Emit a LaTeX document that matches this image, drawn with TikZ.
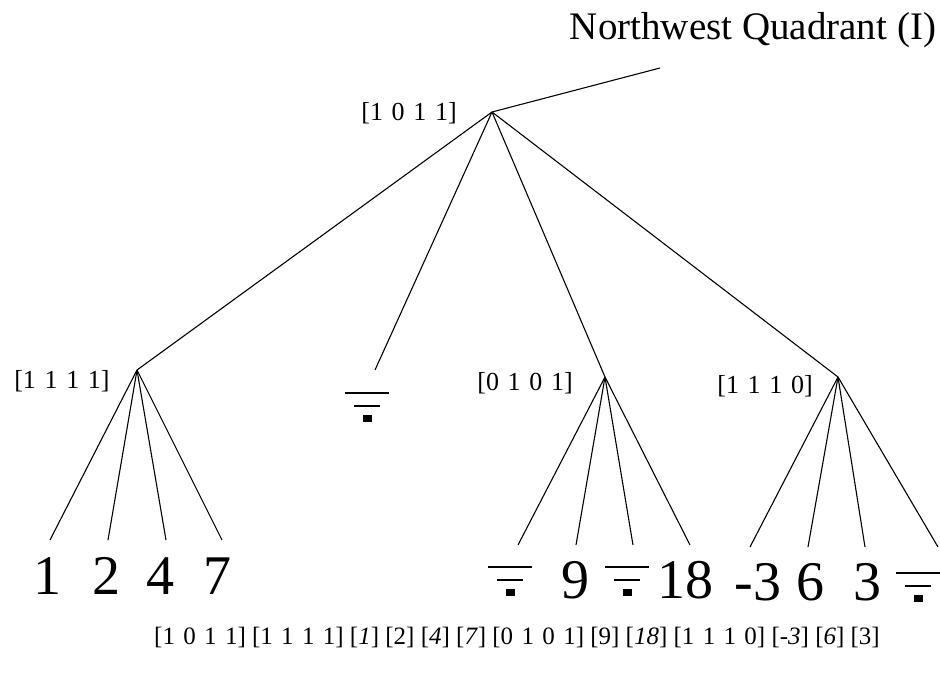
\documentclass[tikz,border=0pt]{standalone}
\usepackage{fontspec}
\setmainfont{Liberation Serif}
\begin{document}
\begin{tikzpicture}[x=1pt,y=-1pt,
  edge/.style={line width=1.1pt},
  lbl/.style={font=\fontsize{26}{28}\selectfont, inner sep=0pt},
  bignum/.style={font=\fontsize{56}{58}\selectfont, inner sep=0pt},
  titlestyle/.style={font=\fontsize{39}{42}\selectfont, inner sep=0pt},
  seq/.style={font=\fontsize{25}{28}\selectfont, inner sep=0pt},
  gnd/.pic={
    \draw[line width=1.2pt] (-22,0) -- (22,0);
    \draw[line width=1.2pt] (-13,13) -- (13,13);
    \fill (-4.5,22) rectangle (4.5,29);
  }]
\useasboundingbox (0,0) rectangle (940,683);
\fill[white] (0,0) rectangle (940,683);

% title
\node[titlestyle] (title) at (753,30) {Northwest Quadrant (I)};
\coordinate (tend) at (660,68);

% tree vertices
\coordinate (root) at (492,112);
\coordinate (A) at (137,370);
\coordinate (B) at (375,370);
\coordinate (C) at (605,377);
\coordinate (D) at (838,377);

% labels
\node[lbl] (lroot) at (409,113) {[1\,\,0\,\,1\,\,1]};
\node[lbl] (lA) at (62,381) {[1\,\,1\,\,1\,\,1]};
\node[lbl] (lC) at (525,383) {[0\,\,1\,\,0\,\,1]};
\node[lbl] (lD) at (765,386) {[1\,\,1\,\,1\,\,0]};

% leaf ends
\coordinate (a1) at (50,540);
\coordinate (a2) at (108,540);
\coordinate (a3) at (166,540);
\coordinate (a4) at (222,540);
\coordinate (c1) at (518,545);
\coordinate (c2) at (576,545);
\coordinate (c3) at (633,545);
\coordinate (c4) at (690,545);
\coordinate (d1) at (750,547);
\coordinate (d2) at (808,547);
\coordinate (d3) at (865,547);
\coordinate (d4) at (938,547);

% edges
\draw[edge] (root) -- (tend);
\foreach \t in {A,B,C,D} \draw[edge] (root) -- (\t);
\foreach \t in {a1,a2,a3,a4} \draw[edge] (A) -- (\t);
\foreach \t in {c1,c2,c3,c4} \draw[edge] (C) -- (\t);
\foreach \t in {d1,d2,d3,d4} \draw[edge] (D) -- (\t);

% ground symbols
\pic at (367,393) {gnd};
\pic at (510,567) {gnd};
\pic at (627,567) {gnd};
\pic at (918,573) {gnd};

% leaf values
\node[bignum] (n1) at (47,576) {1};
\node[bignum] (n2) at (106,576) {2};
\node[bignum] (n4) at (160,576) {4};
\node[bignum] (n7) at (217,576) {7};
\node[bignum] (n9) at (575,580) {9};
\node[bignum] (n18) at (685,580) {18};
\node[bignum] (nm3) at (758,582) {-3};
\node[bignum] (n6) at (810,582) {6};
\node[bignum] (n3) at (867,582) {3};

% sequence
\node[seq] (sequence) at (517,637) {[1\,\,0\,\,1\,\,1] [1\,\,1\,\,1\,\,1] [\textit{1}] [2] [\textit{4}] [\textit{7}] [0\,\,1\,\,0\,\,1] [9] [\textit{18}] [1\,\,1\,\,1\,\,0] [\textit{-3}] [\textit{6}] [3]};
\end{tikzpicture}
\end{document}
